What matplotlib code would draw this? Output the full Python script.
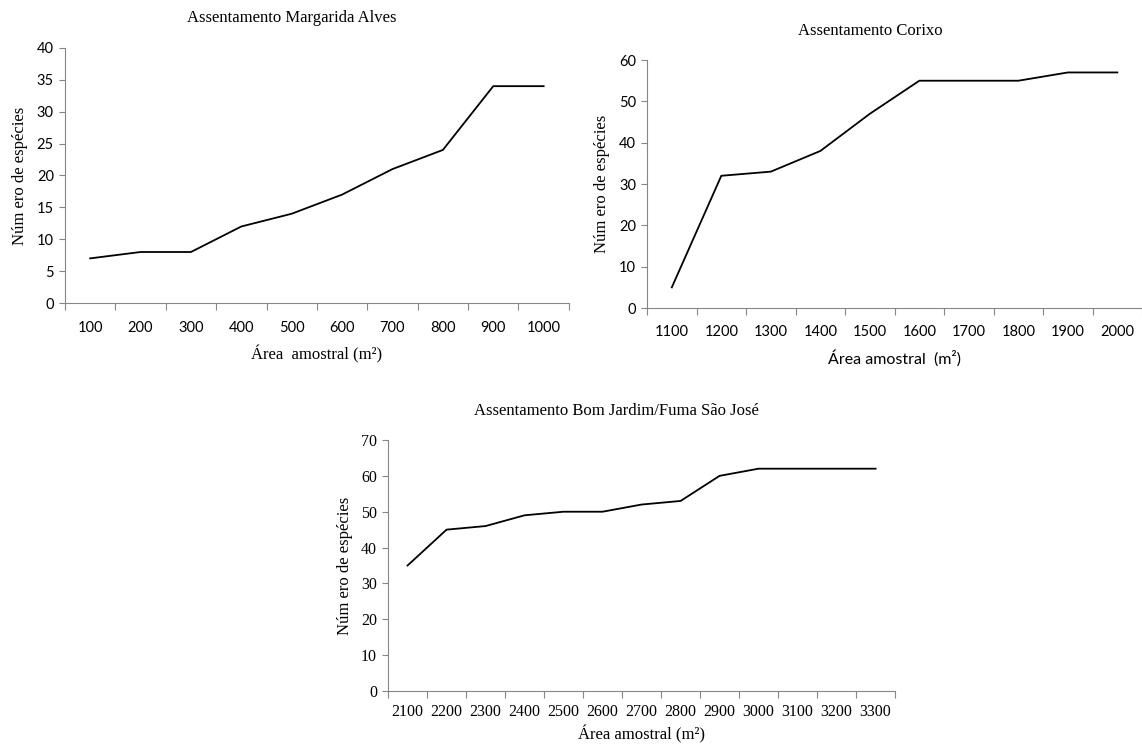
import matplotlib.pyplot as plt
import numpy as np

# dados
area_margarida = [100, 200, 300, 400, 500, 600, 700, 800, 900, 1000]
especies_margarida = [7, 8, 8, 12, 14, 17, 21, 24, 34, 34]

area_corixo = [1100, 1200, 1300, 1400, 1500, 1600, 1700, 1800, 1900, 2000]
especies_corixo = [5, 32, 33, 38, 47, 55, 55, 55, 57, 57]

area_bomjardim = [2100, 2200, 2300, 2400, 2500, 2600, 2700, 2800, 2900, 3000, 3100, 3200, 3300]
especies_bomjardim = [35, 45, 46, 49, 50, 50, 52, 53, 60, 62, 62, 62, 62]

serif = "Liberation Serif"
sans = "Lato"
cinza = "#868686"

fig = plt.figure(figsize=(11.42, 7.46), dpi=100)


def painel(rect, areas, especies, titulo, xlabel, ymax, ystep,
           fonte_ticks, tam_ticks, pad_ticks, fonte_xlabel, tam_xlabel, pad_xlabel):
    ax = fig.add_axes(rect)
    n = len(areas)
    x = np.arange(n)
    ax.plot(x, especies, color="black", lw=1.3)
    ax.set_xlim(-0.5, n - 0.5)
    ax.set_ylim(0, ymax)
    # eixo de categorias: marcas entre as categorias, rótulos no centro
    ax.set_xticks(np.arange(n + 1) - 0.5)
    ax.set_xticklabels([])
    ax.set_xticks(x, minor=True)
    ax.set_xticklabels([str(a) for a in areas], minor=True, fontfamily=fonte_ticks, fontsize=tam_ticks)
    ax.tick_params(axis="x", which="minor", length=0, pad=pad_ticks)
    ax.tick_params(axis="x", which="major", length=5, color=cinza, direction="out")
    yt = np.arange(0, ymax + 1, ystep)
    ax.set_yticks(yt)
    ax.set_yticklabels([str(v) for v in yt], fontfamily=fonte_ticks, fontsize=tam_ticks)
    ax.tick_params(axis="y", length=4, color=cinza, pad=4)
    for lado in ["top", "right"]:
        ax.spines[lado].set_visible(False)
    for lado in ["left", "bottom"]:
        ax.spines[lado].set_color(cinza)
    # título um pouco deslocado para a esquerda, como no original
    ax.text(0.45, 1.085, titulo, transform=ax.transAxes, ha="center", va="bottom",
            fontfamily=serif, fontsize=12)
    ax.set_xlabel(xlabel, fontfamily=fonte_xlabel, fontsize=tam_xlabel, labelpad=pad_xlabel)
    ax.set_ylabel("Núm ero de espécies", fontfamily=serif, fontsize=12, labelpad=6)
    return ax


painel([0.0569, 0.5938, 0.4412, 0.342], area_margarida, especies_margarida,
       "Assentamento Margarida Alves", "Área  amostral (m²)", 40, 5,
       sans, 10.5, 13, serif, 12, 7)
painel([0.5666, 0.5871, 0.4335, 0.3324], area_corixo, especies_corixo,
       "Assentamento Corixo", "Área amostral  (m²)", 60, 10,
       sans, 10.5, 12, sans, 11.5, 8)
painel([0.3398, 0.0737, 0.444, 0.3365], area_bomjardim, especies_bomjardim,
       "Assentamento Bom Jardim/Fuma São José", "Área amostral (m²)", 70, 10,
       serif, 11.5, 9, serif, 12, 4)

fig.savefig("out.png", dpi=100)
